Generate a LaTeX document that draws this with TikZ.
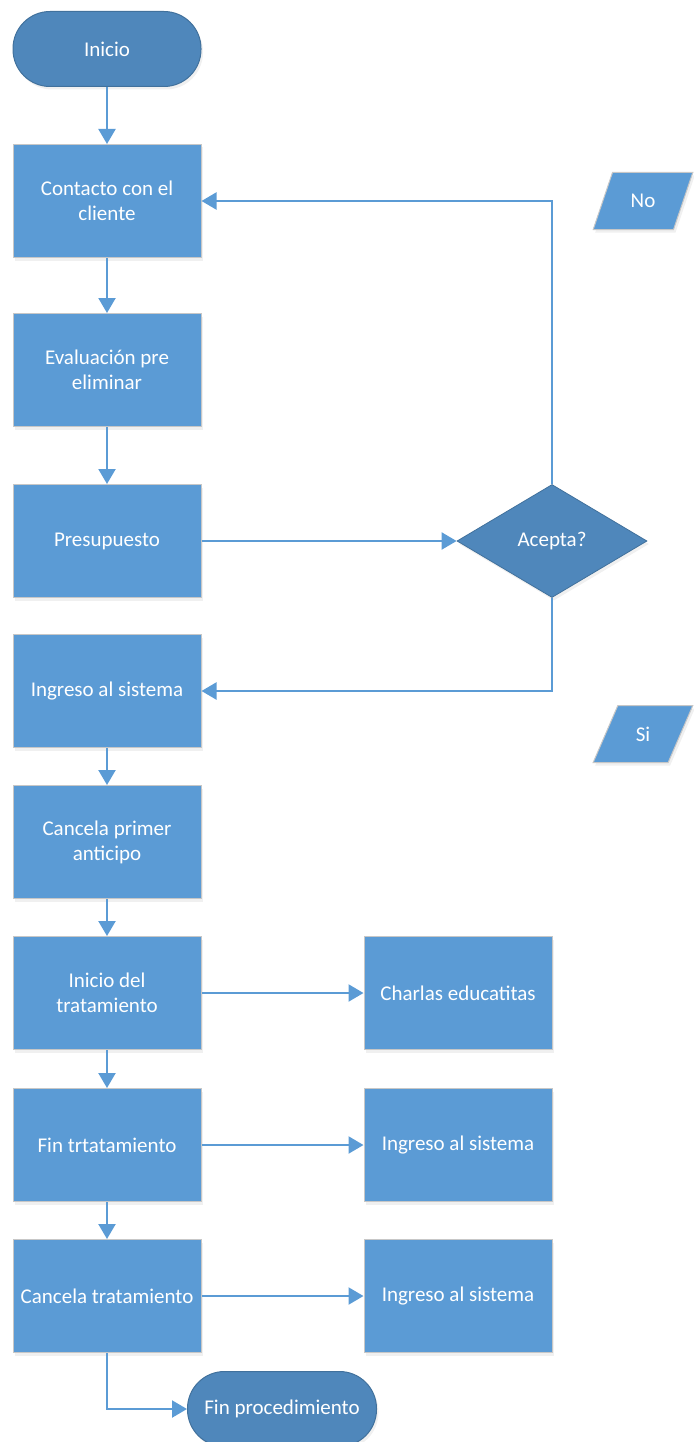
\documentclass[tikz,border=0pt]{standalone}
\usepackage{fontspec}
\setmainfont{Carlito}
\usetikzlibrary{arrows.meta,shapes.geometric,shadows}

\definecolor{boxblue}{HTML}{5B9BD5}
\definecolor{darkblue}{HTML}{4F87BB}
\definecolor{edgeblue}{HTML}{41719C}

\begin{document}
\begin{tikzpicture}[x=1pt,y=-1pt,
  font=\fontsize{21}{25}\selectfont,
  softshadow/.style={drop shadow={opacity=0.12,shadow xshift=2pt,shadow yshift=-3pt}},
  proc/.style={rectangle,fill=boxblue,draw=black!22,line width=1pt,
    minimum width=188pt,minimum height=113pt,inner sep=2pt,
    text=white,align=center,softshadow},
  term/.style={rectangle,rounded corners=37pt,fill=darkblue,draw=edgeblue,
    line width=1pt,minimum height=75pt,inner sep=2pt,text=white,softshadow},
  decide/.style={diamond,fill=darkblue,draw=edgeblue,line width=0.8pt,
    minimum width=190pt,minimum height=113pt,inner sep=0pt,text=white,softshadow},
  answer/.style={trapezium,trapezium left angle=64,trapezium right angle=116,
    trapezium stretches=true,fill=boxblue,draw=black!22,line width=1pt,
    minimum width=100pt,minimum height=57pt,text=white,softshadow},
  flow/.style={draw=boxblue,line width=2.2pt,-{Triangle[length=15pt,width=17pt]}}]
  \useasboundingbox (0,0) rectangle (693,1442);

  \node[term,minimum width=188pt] (inicio) at (107,49) {Inicio};
  \node[proc] (contacto) at (107,201) {Contacto con el\\cliente};
  \node[proc] (evaluacion) at (107,370) {Evaluación pre\\eliminar};
  \node[proc] (presupuesto) at (107,541) {Presupuesto};
  \node[proc] (ingreso) at (107,691) {Ingreso al sistema};
  \node[proc] (anticipo) at (107,842) {Cancela primer\\anticipo};
  \node[proc] (tratamiento) at (107,993) {Inicio del\\tratamiento};
  \node[proc] (fintrat) at (107,1145) {Fin trtatamiento};
  \node[proc] (cancela) at (107,1296) {Cancela tratamiento};

  \node[proc] (charlas) at (458,993) {Charlas educatitas};
  \node[proc] (ingresob) at (458,1145) {Ingreso al sistema};
  \node[proc] (ingresoc) at (458,1296) {Ingreso al sistema};

  \node[decide] (acepta) at (552,541) {Acepta?};
  \node[answer] (no) at (643,201) {No};
  \node[answer] (si) at (643,734) {Si};

  \node[term,minimum width=189pt] (fin) at (282,1409) {Fin procedimiento};

  \draw[flow] (inicio) -- (contacto);
  \draw[flow] (contacto) -- (evaluacion);
  \draw[flow] (evaluacion) -- (presupuesto);
  \draw[flow] (presupuesto) -- (acepta);
  \draw[flow] (acepta.north) |- (contacto.east);
  \draw[flow] (acepta.south) |- (ingreso.east);
  \draw[flow] (ingreso) -- (anticipo);
  \draw[flow] (anticipo) -- (tratamiento);
  \draw[flow] (tratamiento) -- (fintrat);
  \draw[flow] (fintrat) -- (cancela);
  \draw[flow] (tratamiento) -- (charlas);
  \draw[flow] (fintrat) -- (ingresob);
  \draw[flow] (cancela) -- (ingresoc);
  \draw[flow] (cancela.south) |- (fin.west);
\end{tikzpicture}
\end{document}
